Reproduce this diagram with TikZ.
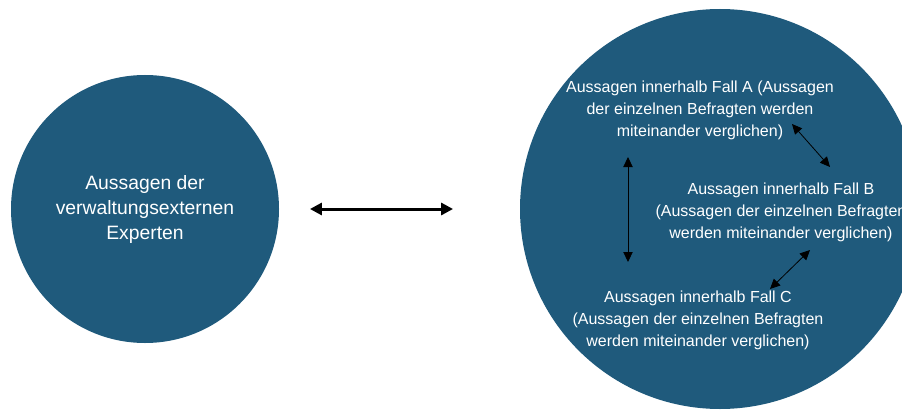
\documentclass[tikz,border=0pt]{standalone}
\usepackage{fontspec}
\setmainfont{Liberation Sans}
\usepackage{xcolor}
\usetikzlibrary{arrows.meta, calc}
\definecolor{circleblue}{RGB}{31,90,124}

\begin{document}
\begin{tikzpicture}[
    x=0.75pt, y=-0.75pt,
    bubble/.style={circle, fill=circleblue, inner sep=0pt},
    bigtext/.style={text=white, align=center, inner sep=0pt, font=\fontsize{14.5}{18.75}\selectfont},
    casetext/.style={text=white, align=center, inner sep=0pt, font=\fontsize{12}{16.5}\selectfont},
    bigarrow/.style={line width=2.25pt, {Triangle[length=9pt,width=9pt]}-{Triangle[length=9pt,width=9pt]}},
    thinarrow/.style={line width=0.6pt, {Triangle[length=7.5pt,width=7pt]}-{Triangle[length=7.5pt,width=7pt]}}
]
\useasboundingbox (0,0) rectangle (902,410);

% Circles
\node[bubble, minimum size=201pt] (experts) at (145,209) {};
\node[bubble, minimum size=300pt] (cases) at (720,209) {};

% Texts
\node[bigtext] (expertstext) at (experts) {Aussagen der\\verwaltungsexternen\\Experten};
\node[casetext] (caseA) at (700,110) {Aussagen innerhalb Fall A (Aussagen\\der einzelnen Befragten werden\\miteinander verglichen)};
\node[casetext] (caseB) at (781,212) {Aussagen innerhalb Fall B\\(Aussagen der einzelnen Befragten\\werden miteinander verglichen)};
\node[casetext] (caseC) at (698,320) {Aussagen innerhalb Fall C\\(Aussagen der einzelnen Befragten\\werden miteinander verglichen)};

% Arrows
\draw[bigarrow, shorten <=23pt, shorten >=50pt] (experts) -- (cases);
\draw[thinarrow] ($(caseA)+(-72,47)$) -- ($(caseC)+(-70,-58)$);
\draw[thinarrow] ($(caseA)+(92,14)$) -- ($(caseB)+(49,-45)$);
\draw[thinarrow] ($(caseB)+(29,38)$) -- ($(caseC)+(72,-31)$);

\end{tikzpicture}
\end{document}
